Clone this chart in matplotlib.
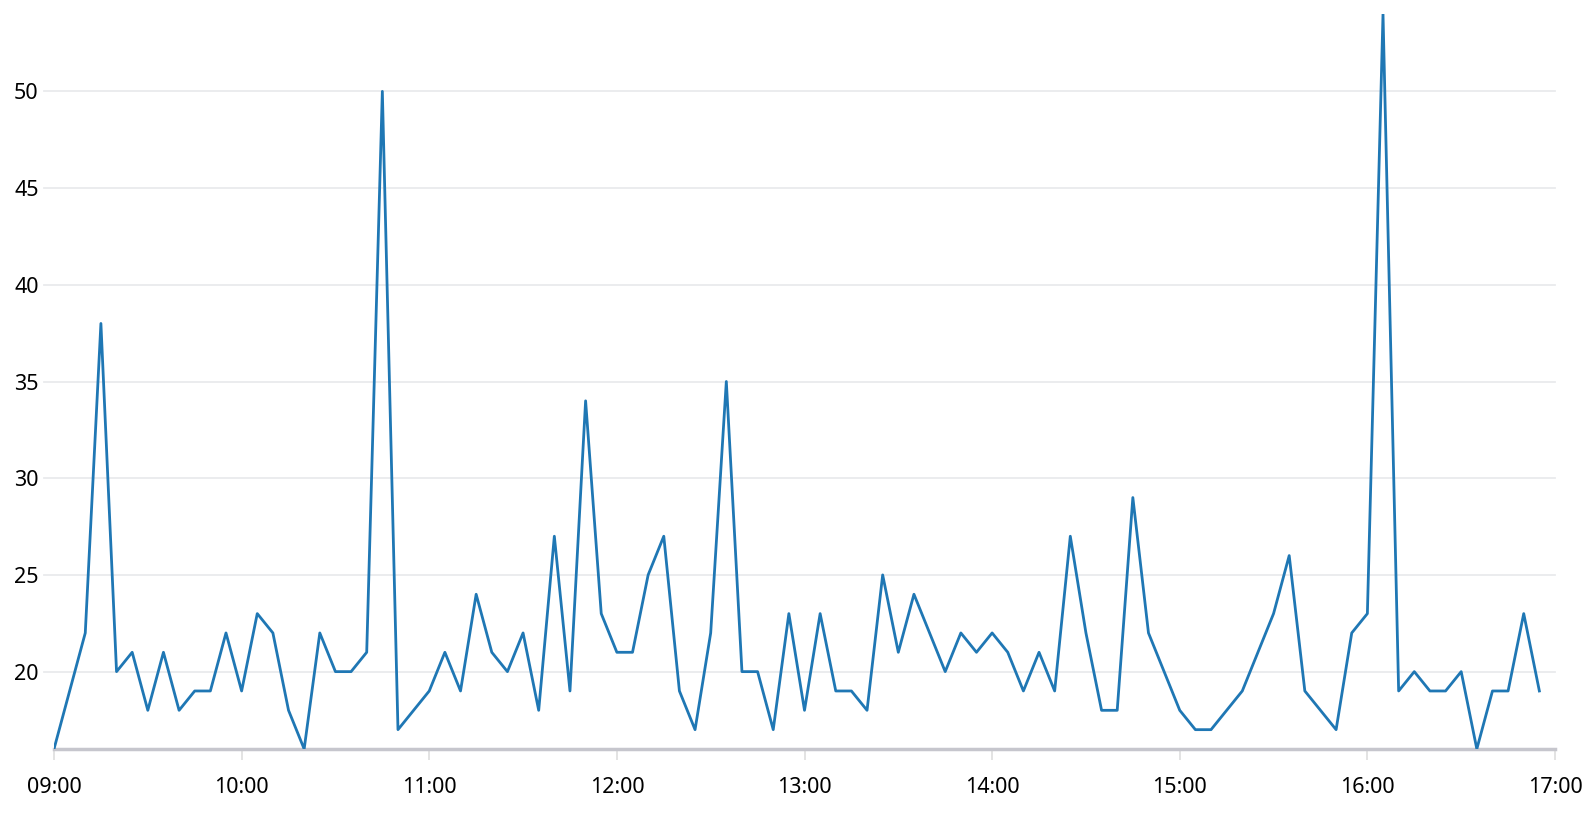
import numpy as np
import pandas as pd
import matplotlib
matplotlib.use('Agg')
import matplotlib.pyplot as plt
import matplotlib.dates as mdates

# 5-minute samples from 09:00 to 16:55
start = '2024-01-01 09:00'
values = [16, 19, 22, 38, 20, 21, 18, 21, 18, 19, 19, 22,
          19, 23, 22, 18, 16, 22, 20, 20, 21, 50, 17, 18,
          19, 21, 19, 24, 21, 20, 22, 18, 27, 19, 34, 23,
          21, 21, 25, 27, 19, 17, 22, 35, 20, 20, 17, 23,
          18, 23, 19, 19, 18, 25, 21, 24, 22, 20, 22, 21,
          22, 21, 19, 21, 19, 27, 22, 18, 18, 29, 22, 20,
          18, 17, 17, 18, 19, 21, 23, 26, 19, 18, 17, 22,
          23, 54, 19, 20, 19, 19, 20, 16, 19, 19, 23, 19]
yticks = [20, 25, 30, 35, 40, 45, 50]
xtick_labels = ['09:00', '10:00', '11:00', '12:00', '13:00', '14:00', '15:00', '16:00', '17:00']

plt.rcParams['font.family'] = ['Noto Sans', 'DejaVu Sans']

times = pd.date_range(start, periods=len(values), freq='5min')
xticks = pd.date_range(start, periods=len(xtick_labels), freq='60min')

fig = plt.figure(figsize=(15.96, 8.16), dpi=100)
ax = fig.add_axes([54/1596, 1-749/816, (1555-54)/1596, (749-14)/816])

for y in yticks:
    ax.axhline(y, xmin=-10/1501, xmax=1, color='#e9ebed', lw=1.3, clip_on=False, zorder=0)

ax.plot(times, values, color='#1f77b4', lw=2.0, zorder=3)

ax.set_xlim(xticks[0], xticks[-1])
ax.set_ylim(16, 54)
ax.set_yticks(yticks)
ax.set_yticklabels([str(v) for v in yticks])
ax.set_xticks(xticks)
ax.set_xticklabels(xtick_labels)

for s in ['top', 'right', 'left']:
    ax.spines[s].set_visible(False)
ax.spines['bottom'].set_color('#c6c6cd')
ax.spines['bottom'].set_linewidth(2.5)

ax.tick_params(axis='y', length=0, pad=11, labelsize=15.5, labelcolor='#000000')
ax.tick_params(axis='x', length=8, width=1.3, color='#e0e0e0', pad=12,
               labelsize=15.5, labelcolor='#000000')

fig.savefig('out.png', dpi=100)
